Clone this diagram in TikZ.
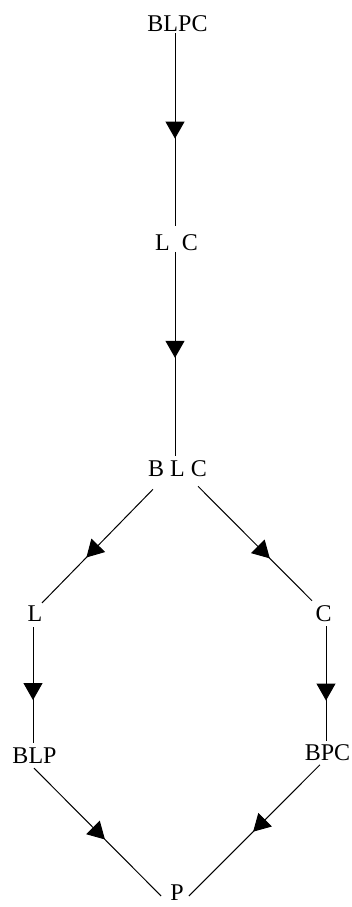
\documentclass[tikz,border=0pt]{standalone}
\usepackage{fontspec}
\setmainfont{Liberation Serif}
\usetikzlibrary{arrows.meta,decorations.markings}
\tikzset{
  lbl/.style={inner sep=0pt, font=\fontsize{24}{28}\selectfont},
  edge/.style={line width=1pt, postaction={decorate}, decoration={markings,
     mark=at position #1 with {\arrow{Triangle[width=19pt,length=17pt]}}}}
}
\begin{document}
\begin{tikzpicture}[x=1pt,y=-1pt]
\useasboundingbox (0,0) rectangle (352,907);
\node[lbl] (blpc) at (177.5,23.5) {BLPC};
\node[lbl] (lc)   at (176.5,242.5) {L\ \ C};
\node[lbl] (blc)  at (177.5,469) {B L C};
\node[lbl] (l)    at (35,614) {L};
\node[lbl] (c)    at (323.5,614) {C};
\node[lbl] (blp)  at (34.5,756) {BLP};
\node[lbl] (bpc)  at (327.5,752.5) {BPC};
\node[lbl] (p)    at (177,893) {P};
\draw[edge=0.547] ([shift={(-2.5,1)}]blpc.south) -- ([shift={(-1.5,-8)}]lc.north);
\draw[edge=0.52]  ([shift={(-1.5,1)}]lc.south) -- ([shift={(-2.5,-5)}]blc.north);
\draw[edge=0.6]   ([shift={(-24.5,12)}]blc.south) -- ([shift={(7,-3)}]l.north);
\draw[edge=0.63]  ([shift={(20.5,9)}]blc.south) -- ([shift={(-11.5,-5)}]c.north);
\draw[edge=0.63]  ([shift={(-2,5)}]l.south) -- ([shift={(-1.5,-5)}]blp.north);
\draw[edge=0.646] ([shift={(2.5,4)}]c.south) -- ([shift={(-1.5,-3)}]bpc.north);
\draw[edge=0.558] ([shift={(-0.5,4)}]blp.south) -- ([shift={(-9,3)}]p.west);
\draw[edge=0.51]  ([shift={(-7.5,4)}]bpc.south) -- ([shift={(5,3)}]p.east);
\end{tikzpicture}
\end{document}
